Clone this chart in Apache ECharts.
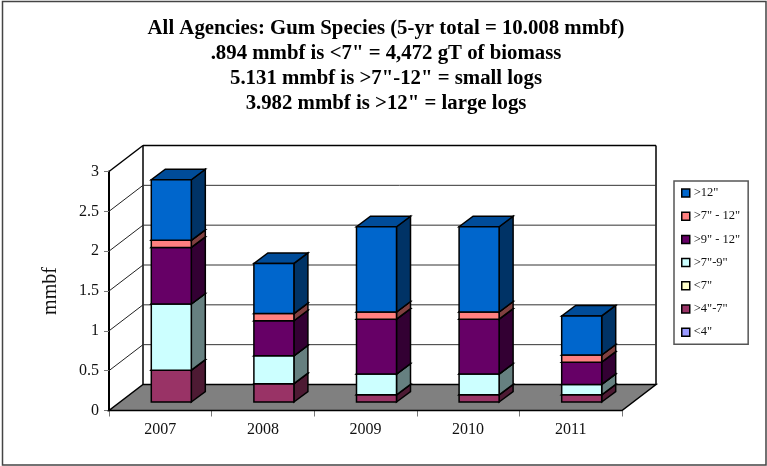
<!DOCTYPE html>
<html>
<head>
<meta charset="utf-8">
<style>
  html, body { margin: 0; padding: 0; background: #fff; }
  #chart { width: 767px; height: 466px; }
</style>
<script src="https://cdn.jsdelivr.net/npm/echarts@6/dist/echarts.min.js"></script>
</head>
<body>
<div id="chart"></div>
<script>
const years = ["2007", "2008", "2009", "2010", "2011"];
const yTicks = [0, 0.5, 1, 1.5, 2, 2.5, 3];

// bottom of the stack first
const under4 = [0, 0, 0, 0, 0];
const from4to7 = [0.4, 0.23, 0.09, 0.09, 0.09];
const under7 = [0, 0, 0, 0, 0];
const from7to9 = [0.83, 0.35, 0.26, 0.26, 0.13];
const from9to12 = [0.71, 0.44, 0.69, 0.69, 0.28];
const from7to12 = [0.09, 0.09, 0.09, 0.09, 0.09];
const over12 = [0.76, 0.63, 1.07, 1.07, 0.49];

const stacks = [
  { name: '<4"', values: under4, front: "#9999ff", side: "#4d4d80", top: "#7373bf" },
  { name: '>4"-7"', values: from4to7, front: "#993366", side: "#4d1a33", top: "#73264d" },
  { name: '<7"', values: under7, front: "#ffffcc", side: "#808066", top: "#bfbf99" },
  { name: '>7"-9"', values: from7to9, front: "#ccffff", side: "#668080", top: "#99bfbf" },
  { name: '>9" - 12"', values: from9to12, front: "#660066", side: "#330033", top: "#4d004d" },
  { name: '>7" - 12"', values: from7to12, front: "#ff8080", side: "#804040", top: "#bf6060" },
  { name: '>12"', values: over12, front: "#0066cc", side: "#003366", top: "#004c99" },
];

const titleText = [
  "All Agencies: Gum Species (5-yr total = 10.008 mmbf)",
  '.894 mmbf is <7" = 4,472 gT of biomass',
  '5.131 mmbf is >7"-12" = small logs',
  '3.982 mmbf is >12" = large logs',
].join("\n");

const FONT = "Liberation Serif";
// oblique projection of the 3d box
const WALL_DX = 34;
const WALL_DY = -26;
const BAR_SHIFT_X = 11;
const BAR_SHIFT_Y = -8.5;
const BAR_DX = 14;
const BAR_DY = -10.5;

function poly(points, fill, stroke, lineWidth) {
  return {
    type: "polygon",
    shape: { points },
    style: { fill, stroke, lineWidth },
  };
}

function line(x1, y1, x2, y2, stroke, lineWidth) {
  return {
    type: "line",
    shape: { x1, y1, x2, y2 },
    style: { stroke, lineWidth },
  };
}

function renderPlanes(params) {
  const g = params.coordSys;
  const bottom = g.y + g.height;
  const right = g.x + g.width;
  return {
    type: "group",
    children: [
      poly(
        [
          [g.x, bottom],
          [right, bottom],
          [right + WALL_DX, bottom + WALL_DY],
          [g.x + WALL_DX, bottom + WALL_DY],
        ],
        "#808080",
        "#000",
        1.5
      ),
      line(g.x + WALL_DX, g.y + WALL_DY, g.x + WALL_DX, bottom + WALL_DY, "#000", 1.5),
      line(right + WALL_DX, g.y + WALL_DY, right + WALL_DX, bottom + WALL_DY, "#000", 1.5),
      line(g.x + WALL_DX, g.y + WALL_DY, right + WALL_DX, g.y + WALL_DY, "#000", 1.5),
      line(g.x, g.y, g.x + WALL_DX, g.y + WALL_DY, "#000", 1.5),
    ],
  };
}

function renderGridLine(params, api) {
  const g = params.coordSys;
  const y = api.coord([0, api.value(0)])[1];
  if (api.value(0) === 0 || api.value(0) === 3) return { type: "group", children: [] };
  return {
    type: "group",
    children: [
      line(g.x, y, g.x + WALL_DX, y + WALL_DY, "#222", 1),
      line(g.x + WALL_DX, y + WALL_DY, g.x + g.width + WALL_DX, y + WALL_DY, "#333", 1),
    ],
  };
}

function renderSegment(s) {
  return function (params, api) {
    if (api.value(2) <= 0) return { type: "group", children: [] };
    const base = api.coord([api.value(0), api.value(1)]);
    const topY = api.coord([api.value(0), api.value(1) + api.value(2)])[1];
    const w = api.size([1, 0])[0] * 0.39;
    const x0 = base[0] + BAR_SHIFT_X - w / 2;
    const x1 = x0 + w;
    const y0 = base[1] + BAR_SHIFT_Y;
    const y1 = topY + BAR_SHIFT_Y;
    return {
      type: "group",
      children: [
        poly([[x1, y0], [x1 + BAR_DX, y0 + BAR_DY], [x1 + BAR_DX, y1 + BAR_DY], [x1, y1]], s.side, "#000", 1.5),
        poly([[x0, y1], [x1, y1], [x1 + BAR_DX, y1 + BAR_DY], [x0 + BAR_DX, y1 + BAR_DY]], s.top, "#000", 1.5),
        poly([[x0, y0], [x1, y0], [x1, y1], [x0, y1]], s.front, "#000", 1.5),
      ],
    };
  };
}

const running = years.map(() => 0);
const barSeries = stacks.map((s) => {
  const data = s.values.map((v, i) => {
    const row = [i, running[i], v];
    running[i] += v;
    return row;
  });
  return {
    name: s.name,
    type: "custom",
    silent: true,
    z: 3,
    itemStyle: { color: s.front },
    encode: { x: 0, y: 1 },
    renderItem: renderSegment(s),
    data,
  };
});

const chart = echarts.init(document.getElementById("chart"), null, { renderer: "canvas" });
chart.setOption({
  animation: false,
  backgroundColor: "#fff",
  textStyle: { fontFamily: FONT },
  title: {
    text: titleText,
    left: 381,
    top: 11,
    textAlign: "center",
    textStyle: {
      fontFamily: FONT,
      fontWeight: "bold",
      fontSize: 20.8,
      lineHeight: 25,
      color: "#000",
    },
  },
  graphic: [
    {
      type: "rect",
      z: -1,
      shape: { x: 2.5, y: 1.5, width: 763.5, height: 463.5 },
      style: { fill: "#fff", stroke: "#444", lineWidth: 1.5 },
    },
  ],
  legend: {
    orient: "vertical",
    left: 674,
    top: 181,
    data: stacks.map((s) => s.name).reverse(),
    icon: "rect",
    itemWidth: 8,
    itemHeight: 8,
    itemGap: 9.2,
    padding: [5, 8, 5, 7],
    borderColor: "#555",
    borderWidth: 1.5,
    selectedMode: false,
    itemStyle: { borderColor: "#000", borderWidth: 1.5 },
    textStyle: { fontFamily: FONT, fontSize: 12.5, lineHeight: 14, color: "#111", padding: [0, 0, 0, -1] },
  },
  grid: { left: 109, top: 171.5, width: 513, height: 239 },
  xAxis: {
    type: "category",
    data: years,
    axisLine: { show: false },
    axisTick: { show: true, length: 6, alignWithLabel: false, lineStyle: { color: "#777" } },
    axisLabel: { fontFamily: FONT, fontSize: 16, color: "#111", margin: 11 },
  },
  yAxis: {
    type: "value",
    min: 0,
    max: 3,
    interval: 0.5,
    name: "mmbf",
    nameLocation: "middle",
    nameRotate: 90,
    nameGap: 48,
    nameTextStyle: { fontFamily: FONT, fontSize: 20, color: "#111" },
    splitLine: { show: false },
    axisLine: { show: true, lineStyle: { color: "#000", width: 2 } },
    axisTick: { show: true, length: 5, lineStyle: { color: "#777" } },
    axisLabel: { fontFamily: FONT, fontSize: 16, color: "#111", margin: 10 },
  },
  series: [
    {
      type: "custom",
      silent: true,
      z: 1,
      renderItem: renderPlanes,
      encode: { x: 0, y: 1 },
      data: [[0, 0]],
    },
    {
      type: "custom",
      silent: true,
      z: 2,
      renderItem: renderGridLine,
      encode: { y: 0 },
      data: yTicks.map((t) => [t]),
    },
    ...barSeries,
  ],
});
</script>
</body>
</html>
